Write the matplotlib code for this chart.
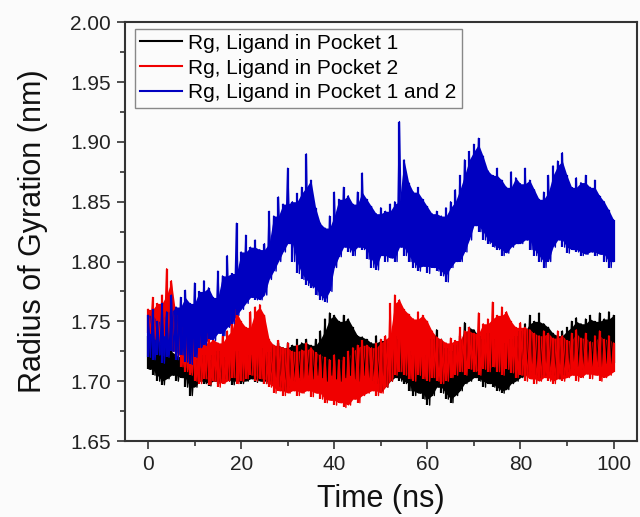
import numpy as np
import matplotlib
matplotlib.use("Agg")
import matplotlib.pyplot as plt
from matplotlib.ticker import MultipleLocator

plt.rcParams['font.family'] = ['Liberation Sans', 'DejaVu Sans']

# time grid (ns), one upper / lower envelope value per ns
time_ns = np.arange(0, 101)

pocket1_hi = [1.738, 1.740, 1.735, 1.730, 1.728, 1.725, 1.722, 1.720, 1.718, 1.715,
              1.718, 1.720, 1.722, 1.718, 1.722, 1.725, 1.720, 1.718, 1.722, 1.725,
              1.720, 1.718, 1.722, 1.725, 1.722, 1.728, 1.724, 1.730, 1.732, 1.728,
              1.732, 1.730, 1.735, 1.732, 1.735, 1.730, 1.735, 1.742, 1.752, 1.757,
              1.755, 1.750, 1.755, 1.752, 1.745, 1.738, 1.737, 1.735, 1.732, 1.738,
              1.734, 1.735, 1.732, 1.738, 1.735, 1.730, 1.725, 1.722, 1.725, 1.720,
              1.722, 1.735, 1.743, 1.735, 1.728, 1.725, 1.730, 1.738, 1.749, 1.745,
              1.743, 1.738, 1.735, 1.740, 1.735, 1.730, 1.728, 1.732, 1.735, 1.738,
              1.742, 1.748, 1.755, 1.750, 1.757, 1.748, 1.745, 1.740, 1.738, 1.742,
              1.745, 1.750, 1.753, 1.748, 1.752, 1.755, 1.750, 1.757, 1.752, 1.758,
              1.755]
pocket1_lo = [1.710, 1.705, 1.700, 1.697, 1.702, 1.705, 1.700, 1.703, 1.695, 1.688,
              1.695, 1.700, 1.698, 1.696, 1.700, 1.698, 1.702, 1.700, 1.697, 1.700,
              1.698, 1.700, 1.702, 1.699, 1.700, 1.698, 1.700, 1.698, 1.695, 1.692,
              1.695, 1.700, 1.703, 1.700, 1.705, 1.702, 1.705, 1.703, 1.700, 1.705,
              1.702, 1.700, 1.703, 1.705, 1.702, 1.700, 1.705, 1.703, 1.700, 1.698,
              1.692, 1.695, 1.700, 1.703, 1.700, 1.698, 1.692, 1.688, 1.690, 1.685,
              1.680, 1.688, 1.695, 1.690, 1.685, 1.682, 1.688, 1.692, 1.698, 1.700,
              1.703, 1.700, 1.695, 1.698, 1.695, 1.692, 1.690, 1.693, 1.698, 1.700,
              1.703, 1.705, 1.708, 1.705, 1.703, 1.705, 1.708, 1.705, 1.702, 1.705,
              1.708, 1.710, 1.712, 1.710, 1.713, 1.712, 1.715, 1.712, 1.715, 1.713,
              1.715]

pocket2_hi = [1.760, 1.770, 1.765, 1.772, 1.794, 1.784, 1.755, 1.745, 1.738, 1.730,
              1.735, 1.738, 1.732, 1.740, 1.735, 1.732, 1.738, 1.742, 1.758, 1.760,
              1.750, 1.745, 1.758, 1.762, 1.764, 1.755, 1.735, 1.730, 1.734, 1.728,
              1.732, 1.725, 1.730, 1.726, 1.732, 1.728, 1.724, 1.722, 1.720, 1.718,
              1.722, 1.718, 1.720, 1.725, 1.728, 1.730, 1.734, 1.730, 1.728, 1.732,
              1.735, 1.738, 1.765, 1.772, 1.768, 1.760, 1.756, 1.752, 1.758, 1.755,
              1.750, 1.742, 1.737, 1.735, 1.732, 1.736, 1.734, 1.745, 1.742, 1.745,
              1.740, 1.757, 1.748, 1.752, 1.766, 1.755, 1.762, 1.758, 1.750, 1.745,
              1.749, 1.745, 1.743, 1.740, 1.738, 1.742, 1.740, 1.736, 1.742, 1.738,
              1.734, 1.740, 1.743, 1.736, 1.740, 1.733, 1.738, 1.742, 1.735, 1.738,
              1.732]
pocket2_lo = [1.740, 1.735, 1.732, 1.738, 1.735, 1.725, 1.720, 1.712, 1.708, 1.705,
              1.700, 1.698, 1.702, 1.697, 1.700, 1.695, 1.698, 1.700, 1.703, 1.698,
              1.700, 1.702, 1.705, 1.700, 1.702, 1.698, 1.695, 1.690, 1.692, 1.688,
              1.690, 1.692, 1.688, 1.690, 1.692, 1.687, 1.690, 1.685, 1.682, 1.684,
              1.680, 1.682, 1.678, 1.680, 1.685, 1.682, 1.688, 1.690, 1.692, 1.688,
              1.690, 1.695, 1.700, 1.705, 1.708, 1.705, 1.702, 1.700, 1.705, 1.702,
              1.700, 1.703, 1.700, 1.698, 1.700, 1.703, 1.705, 1.708, 1.705, 1.710,
              1.708, 1.705, 1.710, 1.708, 1.712, 1.708, 1.705, 1.710, 1.707, 1.703,
              1.705, 1.700, 1.702, 1.698, 1.700, 1.703, 1.700, 1.698, 1.702, 1.700,
              1.703, 1.705, 1.700, 1.703, 1.706, 1.702, 1.705, 1.700, 1.703, 1.705,
              1.708]

both_hi = [1.755, 1.760, 1.750, 1.765, 1.758, 1.772, 1.762, 1.770, 1.776, 1.765,
           1.782, 1.775, 1.784, 1.778, 1.770, 1.792, 1.788, 1.805, 1.790, 1.832,
           1.808, 1.822, 1.812, 1.818, 1.810, 1.815, 1.842, 1.838, 1.854, 1.848,
           1.878, 1.850, 1.857, 1.862, 1.890, 1.868, 1.845, 1.832, 1.828, 1.838,
           1.858, 1.852, 1.862, 1.855, 1.848, 1.858, 1.874, 1.852, 1.846, 1.840,
           1.845, 1.842, 1.848, 1.850, 1.917, 1.885, 1.866, 1.858, 1.862, 1.852,
           1.846, 1.840, 1.842, 1.838, 1.845, 1.850, 1.860, 1.872, 1.885, 1.892,
           1.898, 1.903, 1.888, 1.876, 1.872, 1.878, 1.868, 1.862, 1.875, 1.870,
           1.865, 1.878, 1.868, 1.860, 1.852, 1.858, 1.872, 1.880, 1.884, 1.891,
           1.872, 1.862, 1.870, 1.866, 1.872, 1.862, 1.868, 1.855, 1.850, 1.843,
           1.835]
both_lo = [1.720, 1.718, 1.722, 1.715, 1.720, 1.725, 1.718, 1.722, 1.716, 1.714,
           1.720, 1.728, 1.730, 1.735, 1.734, 1.740, 1.738, 1.745, 1.748, 1.755,
           1.760, 1.765, 1.770, 1.768, 1.768, 1.772, 1.785, 1.792, 1.800, 1.808,
           1.815, 1.800, 1.790, 1.785, 1.780, 1.778, 1.772, 1.768, 1.766, 1.775,
           1.795, 1.804, 1.812, 1.808, 1.805, 1.812, 1.810, 1.802, 1.795, 1.793,
           1.805, 1.800, 1.803, 1.800, 1.812, 1.805, 1.800, 1.795, 1.792, 1.796,
           1.790, 1.795, 1.792, 1.788, 1.783, 1.795, 1.800, 1.800, 1.808, 1.818,
           1.830, 1.825, 1.818, 1.815, 1.812, 1.810, 1.805, 1.807, 1.812, 1.815,
           1.815, 1.818, 1.810, 1.805, 1.800, 1.795, 1.800, 1.812, 1.818, 1.812,
           1.807, 1.810, 1.808, 1.805, 1.806, 1.808, 1.805, 1.806, 1.800, 1.795,
           1.800]

labels = ["Rg, Ligand in Pocket 1", "Rg, Ligand in Pocket 2",
          "Rg, Ligand in Pocket 1 and 2"]
colors = ["#000000", "#f00000", "#0000c0"]


def draw_trace(ax, hi, lo, col, lab):
    hi = np.asarray(hi)
    lo = np.asarray(lo)
    # solid core of the noisy trace
    core_hi = np.minimum(hi, np.r_[hi[0], hi[:-1]])
    core_lo = np.maximum(lo, np.r_[lo[0], lo[:-1]])
    ax.fill_between(time_ns, core_lo, core_hi, color=col, lw=0)
    # spikes reaching the envelope
    ax.vlines(time_ns, lo, hi, color=col, lw=1.6)
    x = np.empty(2 * len(time_ns))
    y = np.empty(2 * len(time_ns))
    x[0::2] = time_ns
    x[1::2] = np.minimum(time_ns + 0.5, 100)
    y[0::2] = hi
    y[1::2] = lo
    ax.plot(x, y, color=col, lw=1.0, label=lab)


fig = plt.figure(figsize=(6.4, 5.17), dpi=100, facecolor="#fbfbfb")
ax = fig.add_axes([0.195, 0.147, 0.80, 0.81], facecolor="#fbfbfb")

for (hi, lo), lab, col in zip([(pocket1_hi, pocket1_lo), (pocket2_hi, pocket2_lo),
                               (both_hi, both_lo)], labels, colors):
    draw_trace(ax, hi, lo, col, lab)

ax.set_xlim(-5, 105)
ax.set_ylim(1.65, 2.00)
ax.xaxis.set_major_locator(MultipleLocator(20))
ax.xaxis.set_minor_locator(MultipleLocator(10))
ax.yaxis.set_major_locator(MultipleLocator(0.05))
ax.yaxis.set_minor_locator(MultipleLocator(0.025))
ax.yaxis.set_major_formatter(plt.FormatStrFormatter("%.2f"))

ax.tick_params(which="both", direction="out", top=False, right=False,
               labelsize=15, colors="#333333", labelcolor="#222222")
ax.tick_params(which="major", length=6, width=1.2, pad=4)
ax.tick_params(which="minor", length=3.5, width=1.2)
for s in ax.spines.values():
    s.set_linewidth(1.5)
    s.set_color("#333333")

ax.set_xlabel("Time (ns)", fontsize=22, color="#111111", labelpad=7)
ax.set_ylabel("Radius of Gyration (nm)", fontsize=22, color="#111111", labelpad=16)

leg = ax.legend(loc="upper left", bbox_to_anchor=(0.02, 0.985), fontsize=15,
                frameon=True, fancybox=False, edgecolor="#888888", framealpha=1,
                facecolor="#fbfbfb", handlelength=2.0, handletextpad=0.3,
                labelspacing=0.28, borderpad=0.25, borderaxespad=0.0)
leg.get_frame().set_linewidth(1.0)
for line in leg.get_lines():
    line.set_linewidth(1.5)

fig.savefig("out.png", dpi=100, facecolor=fig.get_facecolor())
